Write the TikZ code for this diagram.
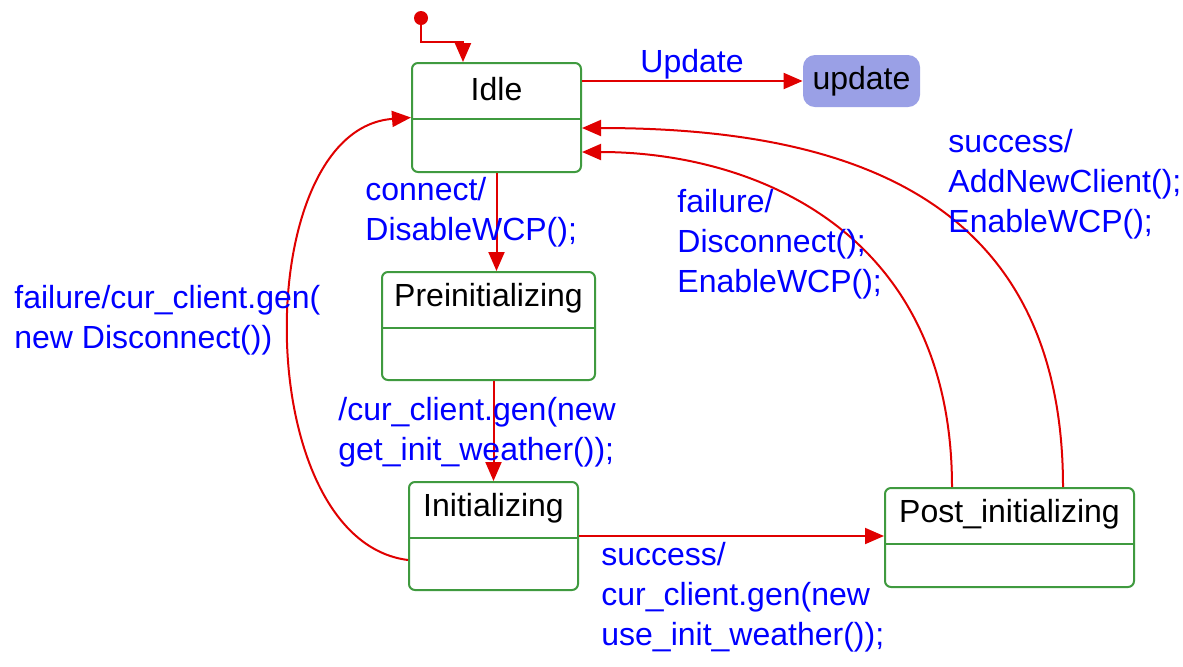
\documentclass[tikz,border=0pt]{standalone}
\usepackage{fontspec}
\setmainfont{Liberation Sans}
\usetikzlibrary{positioning, arrows.meta, calc}
\definecolor{stategreen}{HTML}{3F9A3F}
\definecolor{flowred}{HTML}{E00000}
\definecolor{labelblue}{HTML}{0000FF}
\definecolor{updatefill}{HTML}{9AA0E6}

\begin{document}
\begin{tikzpicture}[x=0.5pt, y=-0.5pt,
      every node/.style={font=\fontsize{16}{20}\selectfont},
      state/.style={draw=stategreen, line width=1pt, rounded corners=3pt, inner sep=0pt, minimum width=84.5pt, minimum height=54pt},
      statename/.style={inner sep=0pt},
      divider/.style={draw=stategreen, line width=1pt},
      flow/.style={draw=flowred, line width=1pt, -{Triangle[length=9.5pt, width=8pt]}},
      trans/.style={text=labelblue, align=left, anchor=north west, inner sep=0pt}]
    \fill[white] (0,0) rectangle (1183,666);
    \useasboundingbox (0,0) rectangle (1183,666);

    % states
    \node[circle, fill=flowred, minimum size=7pt, inner sep=0pt] (init) at (421,18) {};
    \node[state] (idle) at (496.5,117.5) [minimum height=54.5pt] {};
    \node[state, minimum width=106.5pt] (preinit) at (488.5,326) {};
    \node[state] (initing) at (493.5,536) {};
    \node[state, minimum width=124.5pt, minimum height=49.5pt] (post) at (1009.5,537.5) {};
    \node[fill=updatefill, rounded corners=6pt, minimum width=58.5pt, minimum height=26pt, inner sep=0pt] (update) at (861.5,81) {update};

    \foreach \s/\t in {idle/Idle, preinit/Preinitializing, initing/Initializing, post/Post\_initializing} {
      \node[statename] (\s-name) at ([yshift=-13.5pt]\s.north) {\t};
      \draw[divider] ([yshift=-28.5pt]\s.north west) -- ([yshift=-28.5pt]\s.north east);
    }

    % transitions
    \draw[flow] (init.south) -- ++(0,17) -| ([xshift=-16.75pt]idle.north);
    \draw[flow] (idle.east |- update.west) -- (update.west);
    \draw[flow] (idle.south) -- (idle.south |- preinit.north);
    \draw[flow] (initing.north |- preinit.south) -- (initing.north);
    \draw[flow] (initing.east) -- (initing.east -| post.west);
    \draw[flow] ([yshift=-12pt]initing.west) .. controls +(-159,-20) and +(-162,12) .. (idle.west);
    \draw[flow] ([xshift=-28.75pt]post.north) .. controls +(0,-258) and +(169,0) .. ([yshift=-17.25pt]idle.east);
    \draw[flow] ([xshift=26.75pt]post.north) .. controls +(0,-288) and +(269,0) .. ([yshift=-5.25pt]idle.east);

    % labels
    \node[trans] (updatelbl) at (640,49) {Update};
    \node[trans] (connectlbl) at (365,177) {connect/\\DisableWCP();};
    \node[trans] (getlbl) at (338,397) {/cur\_client.gen(new\\get\_init\_weather());};
    \node[trans] (uselbl) at (601,542) {success/\\cur\_client.gen(new\\use\_init\_weather());};
    \node[trans] (disclbl) at (14,285) {failure/cur\_client.gen(\\new Disconnect())};
    \node[trans] (faillbl) at (677,189) {failure/\\Disconnect();\\EnableWCP();};
    \node[trans] (addlbl) at (948,129) {success/\\AddNewClient();\\EnableWCP();};
  \end{tikzpicture}
\end{document}
